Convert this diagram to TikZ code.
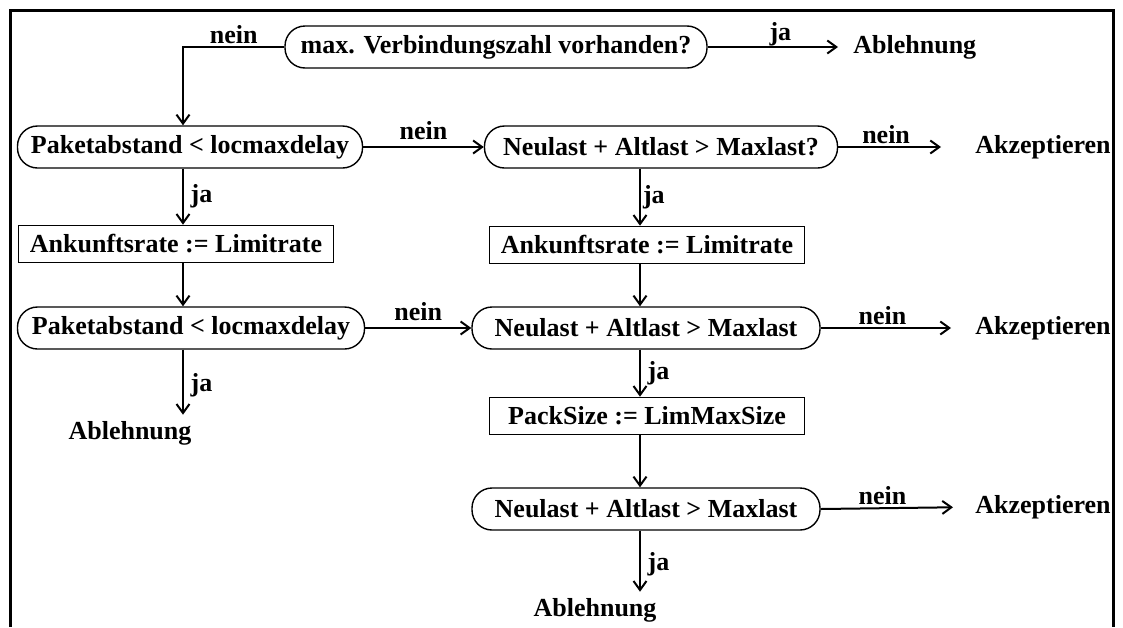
\documentclass[tikz,border=0pt]{standalone}
\usepackage{fontspec}
\setmainfont{Liberation Serif}
\usetikzlibrary{arrows.meta}

\tikzset{
    >={Straight Barb[length=4.5pt,width=6.5pt]},
    decision/.style={draw, line width=0.7pt, rounded corners=10pt, minimum height=21pt, inner sep=0pt},
    assign/.style={draw, line width=0.8pt, minimum height=18.5pt, inner sep=0pt},
    outcome/.style={inner sep=0pt},
    flow/.style={->, line width=1pt},
}

\begin{document}
\begin{tikzpicture}[x=0.5pt, y=-0.5pt, font=\fontsize{13}{15}\selectfont\bfseries]
    \useasboundingbox (0,0) rectangle (1123,627);

    % Frame, open at the bottom
    \draw[line width=1.5pt] (10,627) -- (10,10) -- (1113,10) -- (1113,627);

    % Columns of the vertical arrows
    \coordinate (left) at (183,0);
    \coordinate (right) at (640,0);

    % Decisions and assignments
    \node[decision, minimum width=211pt] (maxconn) at (496,47) {max. Verbindungszahl vorhanden?};
    \node[decision, minimum width=172.5pt] (gap1) at (190,147) {Paketabstand < locmaxdelay};
    \node[decision, minimum width=176.5pt] (load1) at (661,147) {Neulast + Altlast > Maxlast?};
    \node[assign, minimum width=157.5pt] (rate1) at (176,244) {Ankunftsrate := Limitrate};
    \node[assign, minimum width=157.5pt] (rate2) at (647,245) {Ankunftsrate := Limitrate};
    \node[decision, minimum width=173.5pt] (gap2) at (191,328) {Paketabstand < locmaxdelay};
    \node[decision, minimum width=174pt] (load2) at (646,328) {Neulast + Altlast > Maxlast};
    \node[assign, minimum width=157.5pt] (packsize) at (647,416) {PackSize := LimMaxSize};
    \node[decision, minimum width=174pt] (load3) at (646,509) {Neulast + Altlast > Maxlast};

    % Outcomes
    \node[outcome, anchor=west] (reject1) at (853,47) {Ablehnung};
    \node[outcome, anchor=west] (accept1) at (975,147) {Akzeptieren};
    \node[outcome, anchor=west] (accept2) at (975,328) {Akzeptieren};
    \node[outcome, anchor=west] (accept3) at (975,507) {Akzeptieren};
    \node[outcome] (reject2) at (130,433) {Ablehnung};
    \node[outcome] (reject3) at (595,610) {Ablehnung};

    % Top decision
    \draw[flow] (maxconn.west) -| node[pos=0.25, above, inner sep=1pt] {nein} (gap1.north -| left);
    \draw[flow, shorten >=7.5pt] (maxconn.east) -- node[above, inner sep=0pt] {ja} (reject1.west);

    % Left column
    \draw[flow] (gap1.south -| left) -- node[right] {ja} (rate1.north -| left);
    \draw[flow] (rate1.south -| left) -- (gap2.north -| left);
    \draw[flow, shorten >=3pt] (gap2.south -| left) -- node[right] {ja} (reject2.north -| left);
    \draw[flow] (gap1.east) -- node[above] {nein} (load1.west);
    \draw[flow] (gap2.east) -- node[above] {nein} (load2.west);

    % Right column
    \draw[flow] (load1.south -| right) -- node[right, inner sep=1pt] {ja} (rate2.north -| right);
    \draw[flow] (rate2.south -| right) -- (load2.north -| right);
    \draw[flow] (load2.south -| right) -- node[right] {ja} (packsize.north -| right);
    \draw[flow] (packsize.south -| right) -- (load3.north -| right);
    \draw[flow, shorten >=3pt] (load3.south -| right) -- node[right] {ja} (reject3.north -| right);

    % Accepting exits
    \draw[flow, shorten >=17pt] (load1.east) -- node[pos=0.35, above, inner sep=1pt] {nein} (accept1.west);
    \draw[flow, shorten >=12pt] (load2.east) -- node[pos=0.4, above, inner sep=1pt] {nein} (accept2.west);
    \draw[flow, shorten >=11pt] (load3.east) -- node[pos=0.4, above, inner sep=1pt] {nein} (accept3.west);
\end{tikzpicture}
\end{document}
